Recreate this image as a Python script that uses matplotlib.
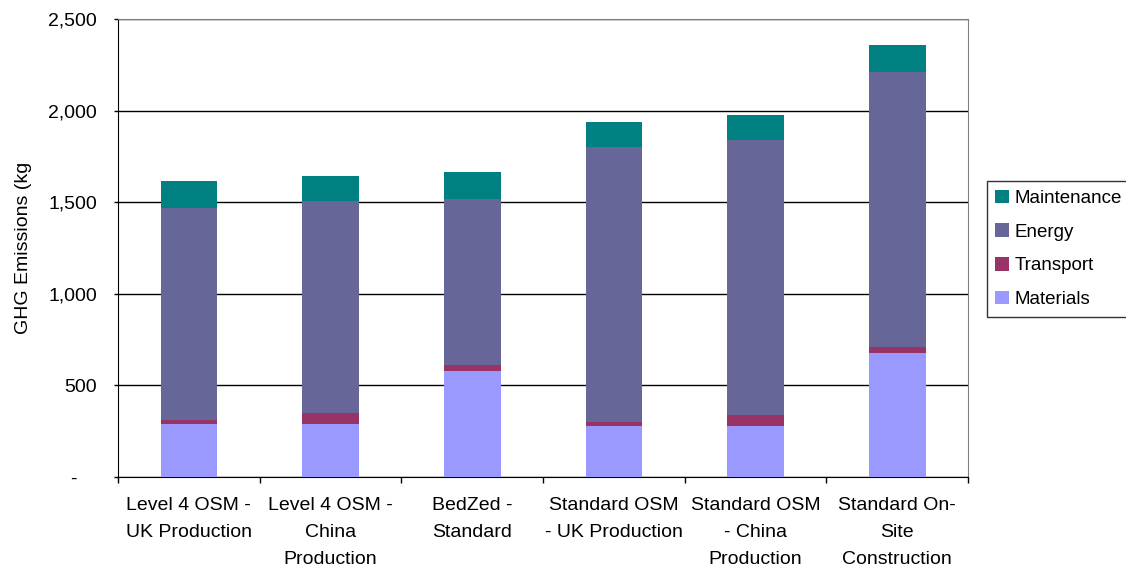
import matplotlib
matplotlib.use("Agg")
import matplotlib.pyplot as plt
import numpy as np

categories = [
    "Level 4 OSM -\nUK Production",
    "Level 4 OSM -\nChina\nProduction",
    "BedZed -\nStandard",
    "Standard OSM\n- UK Production",
    "Standard OSM\n- China\nProduction",
    "Standard On-\nSite\nConstruction",
]
materials = [290, 290, 580, 280, 278, 678]
transport = [23, 59, 31, 22, 60, 31]
energy = [1157, 1158, 906, 1499, 1503, 1502]
maintenance = [146, 136, 148, 137, 135, 147]

series = [
    ("Materials", materials, "#9999FF"),
    ("Transport", transport, "#993366"),
    ("Energy", energy, "#666699"),
    ("Maintenance", maintenance, "#008080"),
]

FS = 14
plt.rcParams["font.family"] = ["Liberation Sans", "DejaVu Sans"]

fig = plt.figure(figsize=(11.26, 5.67), dpi=100)
ax = fig.add_axes([0.1048, 0.1587, 0.755, 0.8078])

x = np.arange(len(categories))
bottom = np.zeros(len(categories))
handles = []
for name, vals, color in series:
    h = ax.bar(x, vals, width=0.4, bottom=bottom, color=color, label=name,
               zorder=3, linewidth=0)
    handles.append(h)
    bottom += np.array(vals)

ax.set_xlim(-0.5, len(categories) - 0.5)
ax.set_ylim(0, 2500)
ax.set_yticks([0, 500, 1000, 1500, 2000, 2500])
ax.set_yticklabels(["-   \u2009", "500", "1,000", "1,500", "2,000", "2,500"], fontsize=FS)
ax.yaxis.grid(True, color="black", linewidth=1, zorder=0)
ax.set_axisbelow(True)

ax.set_xticks(x)
ax.set_xticklabels(categories, fontsize=FS, linespacing=1.78, va="top")
ax.tick_params(axis="x", length=0, pad=14.5)
ax.set_xticks(np.arange(-0.5, len(categories)), minor=True)
ax.tick_params(axis="x", which="minor", length=4, direction="out", width=1)
ax.tick_params(axis="y", length=3, direction="out", width=1, pad=12)

for side in ["top", "right"]:
    ax.spines[side].set_color("#808080")
for side in ["left", "bottom"]:
    ax.spines[side].set_color("black")

ax.set_ylabel("GHG Emissions (kg", fontsize=FS, labelpad=12)

leg = fig.legend(handles[::-1], [s[0] for s in series][::-1],
                 loc="center left", bbox_to_anchor=(0.8766, 0.561),
                 fontsize=13.5, frameon=True, fancybox=False,
                 edgecolor="black", handlelength=0.72, handleheight=0.72,
                 labelspacing=0.88, handletextpad=0.3, borderpad=0.45,
                 borderaxespad=0)
leg.get_frame().set_linewidth(1)

fig.savefig("out.png", dpi=100)
